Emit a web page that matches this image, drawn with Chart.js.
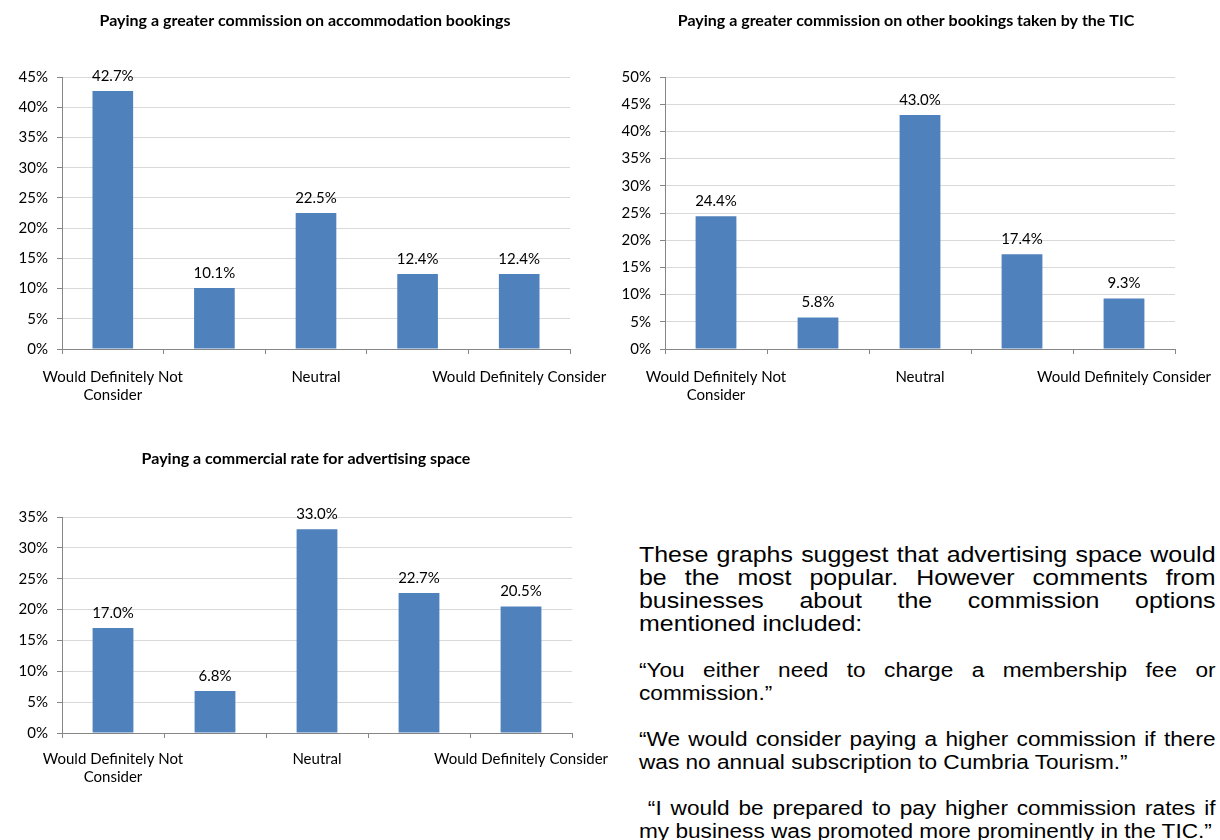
<!DOCTYPE html>
<html>
<head>
<meta charset="utf-8">
<title>TIC commission options</title>
<script src="https://cdn.jsdelivr.net/npm/chart.js@4.4.0/dist/chart.umd.min.js"></script>
<style>
  body { margin: 0; width: 1220px; height: 840px; background: #fff; position: relative; overflow: hidden; }
  canvas { position: absolute; }
  /* the source page is a little stretched sideways, hence the scaleX */
  #notes {
    position: absolute; left: 639px; top: 544px; width: 497px;
    transform: scaleX(1.16); transform-origin: left top;
    font-family: 'Liberation Sans', Arial, sans-serif; color: #000;
    text-align: justify; line-height: 23px;
  }
  #notes p { margin: 0 0 23px 0; font-size: 19.5px; }
  #notes p.lead { font-size: 21.5px; }
</style>
</head>
<body>
<canvas id="accommodation" width="610" height="410" style="left:0;top:0"></canvas>
<canvas id="otherBookings" width="616" height="410" style="left:598px;top:0"></canvas>
<canvas id="advertising" width="612" height="350" style="left:0;top:440px"></canvas>

<div id="notes">
  <p class="lead">These graphs suggest that advertising space would be the most popular. However comments from businesses about the commission options mentioned included:</p>
  <p>“You either need to charge a membership fee or commission.”</p>
  <p>“We would consider paying a higher commission if there was no annual subscription to Cumbria Tourism.”</p>
  <p>&nbsp;“I would be prepared to pay higher commission rates if my business was promoted more prominently in the TIC.”</p>
</div>

<script>
// categories on the x axis (only every other one is labelled in the original)
const categories = [['Would Definitely Not', 'Consider'], '', 'Neutral', '', 'Would Definitely Consider'];

// percentages
const accommodationPct = [42.7, 10.1, 22.5, 12.4, 12.4];
const otherBookingsPct = [24.4, 5.8, 43.0, 17.4, 9.3];
const advertisingPct = [17.0, 6.8, 33.0, 22.7, 20.5];

const chartTitles = [
    'Paying a greater commission on accommodation bookings',
    'Paying a greater commission on other bookings taken by the TIC',
    'Paying a commercial rate for advertising space'
];
const yMaxima = [45, 50, 35];
const yStep = 5;

const FONT = 'Lato, "Open Sans", sans-serif';
const BAR_COLOR = '#4F81BD';
const AXIS_COLOR = '#868686';
const GRID_COLOR = '#D9D9D9';

// value labels above the bars
const valueLabels = {
    id: 'valueLabels',
    afterDatasetsDraw(chart) {
        const ctx = chart.ctx;
        const values = chart.data.datasets[0].data;
        ctx.save();
        ctx.font = '15px ' + FONT;
        ctx.fillStyle = '#000';
        ctx.textAlign = 'center';
        ctx.textBaseline = 'middle';
        chart.getDatasetMeta(0).data.forEach((bar, i) => {
            ctx.fillText(values[i].toFixed(1) + '%', bar.x, bar.y - 15);
        });
        ctx.restore();
    }
};

function makeChart(id, title, values, yMax, frame) {
    const canvas = document.getElementById(id);
    return new Chart(canvas.getContext('2d'), {
        type: 'bar',
        data: {
            labels: categories,
            datasets: [{
                data: values,
                backgroundColor: BAR_COLOR,
                borderWidth: 0,
                barPercentage: 0.4,
                categoryPercentage: 1.0
            }]
        },
        options: {
            responsive: false,
            animation: false,
            layout: { padding: 0 },
            plugins: {
                legend: { display: false },
                tooltip: { enabled: false },
                title: {
                    display: true,
                    text: title,
                    color: '#000',
                    font: { family: FONT, size: 16, weight: 'bold' },
                    padding: { top: frame.titleTop, bottom: frame.titleBottom }
                }
            },
            scales: {
                x: {
                    grid: {
                        offset: true,
                        drawOnChartArea: false,
                        drawTicks: true,
                        tickLength: 5,
                        color: AXIS_COLOR
                    },
                    border: { color: AXIS_COLOR },
                    ticks: {
                        autoSkip: false,
                        maxRotation: 0,
                        minRotation: 0,
                        padding: frame.labelPad,
                        color: '#000',
                        font: { family: FONT, size: 15, lineHeight: 1.2 }
                    },
                    afterFit(scale) {
                        scale.height = frame.xAxisHeight;
                        scale.paddingLeft = 0;
                        scale.paddingRight = frame.rightPad;
                    }
                },
                y: {
                    min: 0,
                    max: yMax,
                    grid: {
                        color: GRID_COLOR,
                        tickColor: AXIS_COLOR,
                        tickLength: 5
                    },
                    border: { color: AXIS_COLOR },
                    ticks: {
                        stepSize: yStep,
                        padding: 9,
                        color: '#000',
                        font: { family: FONT, size: 15 },
                        callback: v => v + '%'
                    },
                    afterFit(scale) {
                        scale.width = frame.yAxisWidth;
                    }
                }
            }
        },
        plugins: [valueLabels]
    });
}

makeChart('accommodation', chartTitles[0], accommodationPct, yMaxima[0],
    { yAxisWidth: 62, rightPad: 40, xAxisHeight: 61, labelPad: 14, titleTop: 11.4, titleBottom: 46.4 });
makeChart('otherBookings', chartTitles[1], otherBookingsPct, yMaxima[1],
    { yAxisWidth: 67, rightPad: 39, xAxisHeight: 61, labelPad: 14, titleTop: 11.4, titleBottom: 46.4 });
makeChart('advertising', chartTitles[2], advertisingPct, yMaxima[2],
    { yAxisWidth: 62, rightPad: 40, xAxisHeight: 57, labelPad: 12, titleTop: 9.4, titleBottom: 48.4 });
</script>
</body>
</html>
